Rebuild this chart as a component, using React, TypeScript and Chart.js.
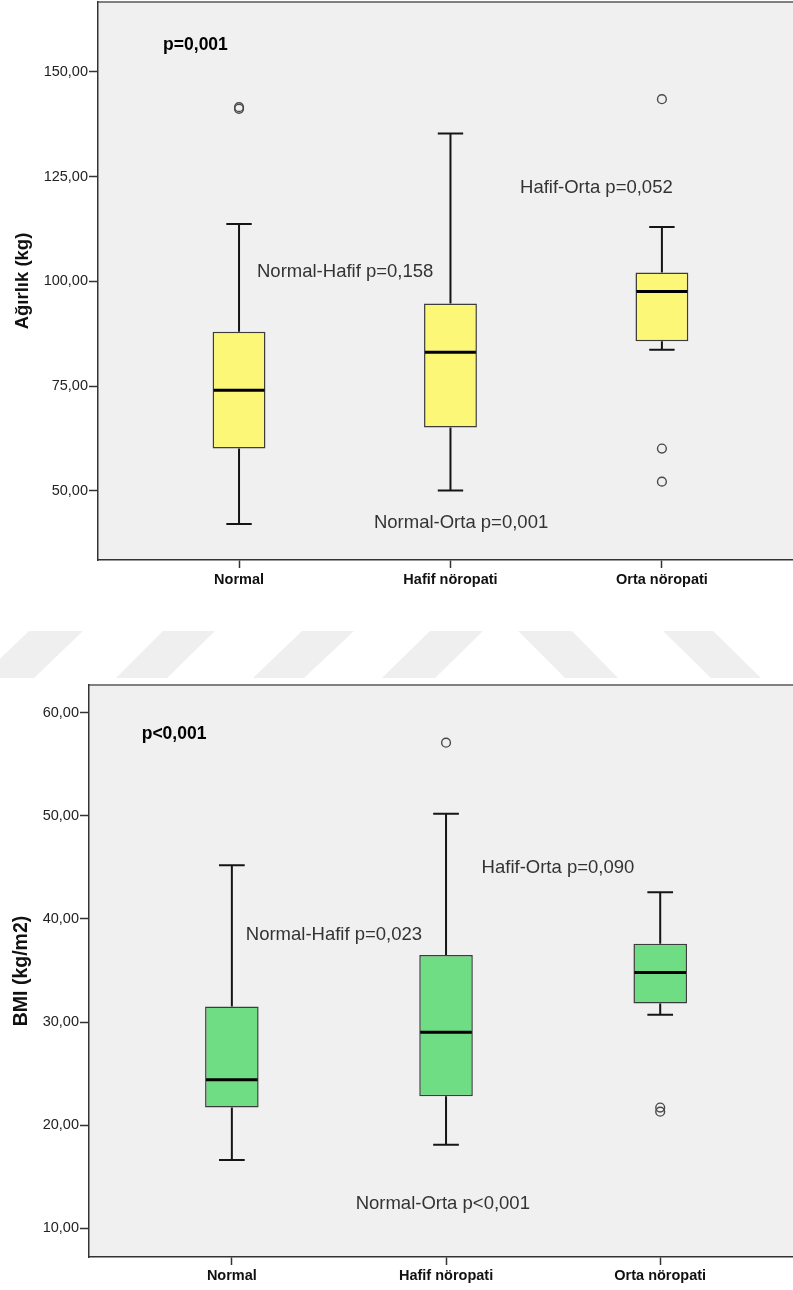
import React, { useEffect, useRef } from 'react';
import { Chart, registerables } from 'chart.js';

Chart.register(...registerables);

const FONT = "'Liberation Sans', Arial, sans-serif";

const categories = ['Normal', 'Hafif nöropati', 'Orta nöropati'];

// Chart 1: Ağırlık (kg)
const weightMin = [42.1, 50.1, 83.7];
const weightQ1 = [60.1, 65.1, 85.7];
const weightMedian = [74.0, 83.1, 97.6];
const weightQ3 = [88.0, 94.7, 102.1];
const weightMax = [113.7, 135.3, 113.0];
const weightOutlierGroup = [0, 0, 2, 2, 2];
const weightOutlierValue = [141.2, 141.6, 143.5, 60.1, 52.2];
const weightTicks = [50, 75, 100, 125, 150];
const weightNotes = ['p=0,001', 'Normal-Hafif p=0,158', 'Hafif-Orta p=0,052', 'Normal-Orta p=0,001'];

// Chart 2: BMI (kg/m2)
const bmiMin = [16.6, 18.1, 30.7];
const bmiQ1 = [21.7, 22.8, 31.8];
const bmiMedian = [24.4, 29.0, 34.8];
const bmiQ3 = [31.5, 36.5, 37.6];
const bmiMax = [45.2, 50.2, 42.6];
const bmiOutlierGroup = [1, 2, 2];
const bmiOutlierValue = [57.1, 21.3, 21.7];
const bmiTicks = [10, 20, 30, 40, 50, 60];
const bmiNotes = ['p<0,001', 'Normal-Hafif p=0,023', 'Hafif-Orta p=0,090', 'Normal-Orta p<0,001'];

type Stats = {
  min: number[]; q1: number[]; med: number[]; q3: number[]; max: number[];
  outGroup: number[]; outValue: number[]; ticks: number[]; notes: string[];
};

type Look = {
  title: string; titleSize: number; fill: string; yMin: number; yMax: number;
  leftW: number; bottomH: number; padTop: number; titlePad: number; labelPad: number;
  notePos: { x: number; y: number; bold: boolean }[];
};

const boxExtras = {
  id: 'boxExtras',
  beforeDraw(chart: any) {
    const { ctx, chartArea: a } = chart;
    ctx.save();
    ctx.fillStyle = '#f0f0f0';
    ctx.fillRect(a.left, a.top, a.right - a.left + 2, a.bottom - a.top);
    ctx.strokeStyle = '#808080';
    ctx.lineWidth = 2;
    ctx.beginPath();
    ctx.moveTo(a.left, a.top);
    ctx.lineTo(a.right + 2, a.top);
    ctx.stroke();
    ctx.restore();
  },
  beforeDatasetsDraw(chart: any, _args: any, opts: any) {
    const { ctx } = chart;
    const xs = chart.scales.x;
    const ys = chart.scales.y;
    const s: Stats = opts.stats;
    const capHalf = (xs.getPixelForValue(opts.capWidth) - xs.getPixelForValue(0)) / 2;
    ctx.save();
    ctx.strokeStyle = '#151515';
    ctx.lineWidth = 2;
    categories.forEach((_, i) => {
      const px = xs.getPixelForValue(i);
      const yMax = ys.getPixelForValue(s.max[i]);
      const yQ3 = ys.getPixelForValue(s.q3[i]);
      const yQ1 = ys.getPixelForValue(s.q1[i]);
      const yMin = ys.getPixelForValue(s.min[i]);
      ctx.beginPath();
      ctx.moveTo(px, yQ3); ctx.lineTo(px, yMax);
      ctx.moveTo(px - capHalf, yMax); ctx.lineTo(px + capHalf, yMax);
      ctx.moveTo(px, yQ1); ctx.lineTo(px, yMin);
      ctx.moveTo(px - capHalf, yMin); ctx.lineTo(px + capHalf, yMin);
      ctx.stroke();
    });
    ctx.restore();
  },
  afterDatasetsDraw(chart: any, _args: any, opts: any) {
    const { ctx } = chart;
    const xs = chart.scales.x;
    const ys = chart.scales.y;
    const s: Stats = opts.stats;
    const meta = chart.getDatasetMeta(0);
    ctx.save();
    ctx.strokeStyle = '#000';
    ctx.lineWidth = 3;
    categories.forEach((_, i) => {
      const bar = meta.data[i];
      const half = bar.width / 2;
      const py = ys.getPixelForValue(s.med[i]);
      ctx.beginPath();
      ctx.moveTo(bar.x - half + 1, py);
      ctx.lineTo(bar.x + half - 1, py);
      ctx.stroke();
    });
    ctx.textAlign = 'left';
    ctx.textBaseline = 'middle';
    s.notes.forEach((t, i) => {
      const p = opts.notePos[i];
      ctx.font = p.bold ? `bold 17.5px ${FONT}` : `18.5px ${FONT}`;
      ctx.fillStyle = p.bold ? '#000' : '#333';
      ctx.fillText(t, xs.getPixelForValue(p.x), ys.getPixelForValue(p.y));
    });
    ctx.restore();
  },
};

function buildConfig(s: Stats, look: Look): any {
  const boxes = categories.map((_, i) => ({ x: i, y: [s.q1[i], s.q3[i]] }));
  const outs = s.outGroup.map((g, i) => ({ x: g, y: s.outValue[i] }));
  return {
    type: 'bar',
    data: {
      datasets: [
        {
          type: 'bar',
          data: boxes,
          backgroundColor: look.fill,
          borderColor: '#3c3c3c',
          borderWidth: 1.5,
          borderSkipped: false,
          barPercentage: 0.25,
          categoryPercentage: 1,
        },
        {
          type: 'scatter',
          data: outs,
          pointStyle: 'circle',
          pointRadius: 4.4,
          borderWidth: 1.4,
          borderColor: '#4a4a4a',
          backgroundColor: 'rgba(0,0,0,0)',
        },
      ],
    },
    plugins: [boxExtras],
    options: {
      responsive: false,
      animation: false,
      layout: { autoPadding: false, padding: { top: look.padTop, left: 0, right: 0, bottom: 0 } },
      plugins: {
        legend: { display: false },
        tooltip: { enabled: false },
        boxExtras: { stats: s, capWidth: 0.12, notePos: look.notePos },
      },
      scales: {
        x: {
          type: 'linear',
          min: -0.667,
          max: 2.62,
          offset: false,
          afterBuildTicks: (sc: any) => { sc.ticks = categories.map((_, i) => ({ value: i })); },
          afterFit: (sc: any) => {
            sc.height = look.bottomH;
            sc.paddingLeft = 0; sc.paddingRight = 0;
          },
          ticks: {
            callback: (v: any) => categories[Number(v)] ?? '',
            font: { family: FONT, size: 14.5, weight: 'bold' },
            color: '#111',
            padding: look.labelPad,
            maxRotation: 0,
            autoSkip: false,
          },
          grid: { drawOnChartArea: false, drawTicks: true, tickLength: 8, tickColor: '#333', tickWidth: 1.5, offset: false },
          border: { display: true, color: '#333', width: 1.5 },
        },
        y: {
          type: 'linear',
          min: look.yMin,
          max: look.yMax,
          afterBuildTicks: (sc: any) => { sc.ticks = s.ticks.map((v) => ({ value: v })); },
          afterFit: (sc: any) => {
            sc.width = look.leftW;
            sc.paddingTop = 0; sc.paddingBottom = 0;
          },
          ticks: {
            callback: (v: any) => Number(v).toFixed(2).replace('.', ','),
            font: { family: FONT, size: 14.5 },
            color: '#222',
            padding: 1,
          },
          grid: { drawOnChartArea: false, drawTicks: true, tickLength: 9, tickColor: '#333', tickWidth: 1.5 },
          border: { display: true, color: '#333', width: 1.5 },
          title: {
            display: true,
            text: look.title,
            font: { family: FONT, size: look.titleSize, weight: 'bold' },
            color: '#111',
            padding: { top: look.titlePad, bottom: 0 },
          },
        },
      },
    },
  };
}

function BoxChart({ stats, look, width, height, top }: { stats: Stats; look: Look; width: number; height: number; top: number }) {
  const ref = useRef<HTMLCanvasElement | null>(null);
  useEffect(() => {
    if (!ref.current) return;
    const chart = new Chart(ref.current, buildConfig(stats, look));
    return () => chart.destroy();
  }, []);
  return (
    <canvas
      ref={ref}
      width={width}
      height={height}
      style={{ position: 'absolute', left: 0, top, width, height, display: 'block' }}
    />
  );
}

const weightStats: Stats = {
  min: weightMin, q1: weightQ1, med: weightMedian, q3: weightQ3, max: weightMax,
  outGroup: weightOutlierGroup, outValue: weightOutlierValue, ticks: weightTicks, notes: weightNotes,
};
const bmiStats: Stats = {
  min: bmiMin, q1: bmiQ1, med: bmiMedian, q3: bmiQ3, max: bmiMax,
  outGroup: bmiOutlierGroup, outValue: bmiOutlierValue, ticks: bmiTicks, notes: bmiNotes,
};

const weightLook: Look = {
  title: 'Ağırlık (kg)', titleSize: 18.5, fill: '#fcf777', yMin: 33.5, yMax: 166.7,
  leftW: 98, bottomH: 40, padTop: 2, titlePad: 12, labelPad: 3,
  notePos: [
    { x: -0.359, y: 156.4, bold: true },
    { x: 0.085, y: 102.3, bold: false },
    { x: 1.329, y: 122.4, bold: false },
    { x: 0.638, y: 42.4, bold: false },
  ],
};
const bmiLook: Look = {
  title: 'BMI (kg/m2)', titleSize: 19.5, fill: '#6fdd83', yMin: 7.2, yMax: 62.7,
  leftW: 89, bottomH: 33, padTop: 5, titlePad: 10, labelPad: 2,
  notePos: [
    { x: -0.421, y: 57.9, bold: true },
    { x: 0.065, y: 38.44, bold: false },
    { x: 1.166, y: 44.96, bold: false },
    { x: 0.578, y: 12.4, bold: false },
  ],
};

const stripes = [
  '29,631 83,631 34,678 -20,678',
  '163,631 215,631 167,678 116,678',
  '302,631 354,631 304,678 253,678',
  '430,631 483,631 435,678 382,678',
  '518,631 572,631 618,678 565,678',
  '663,631 713,631 761,678 711,678',
];

export default function App() {
  return (
    <div style={{ position: 'absolute', left: 0, top: 0, width: 793, height: 1290, overflow: 'hidden', background: '#fff' }}>
      <svg width={793} height={1290} style={{ position: 'absolute', left: 0, top: 0 }}>
        {stripes.map((p, i) => (
          <polygon key={i} points={p} fill="#efefef" />
        ))}
      </svg>
      <BoxChart stats={weightStats} look={weightLook} width={793} height={600} top={0} />
      <BoxChart stats={bmiStats} look={bmiLook} width={793} height={610} top={680} />
    </div>
  );
}
